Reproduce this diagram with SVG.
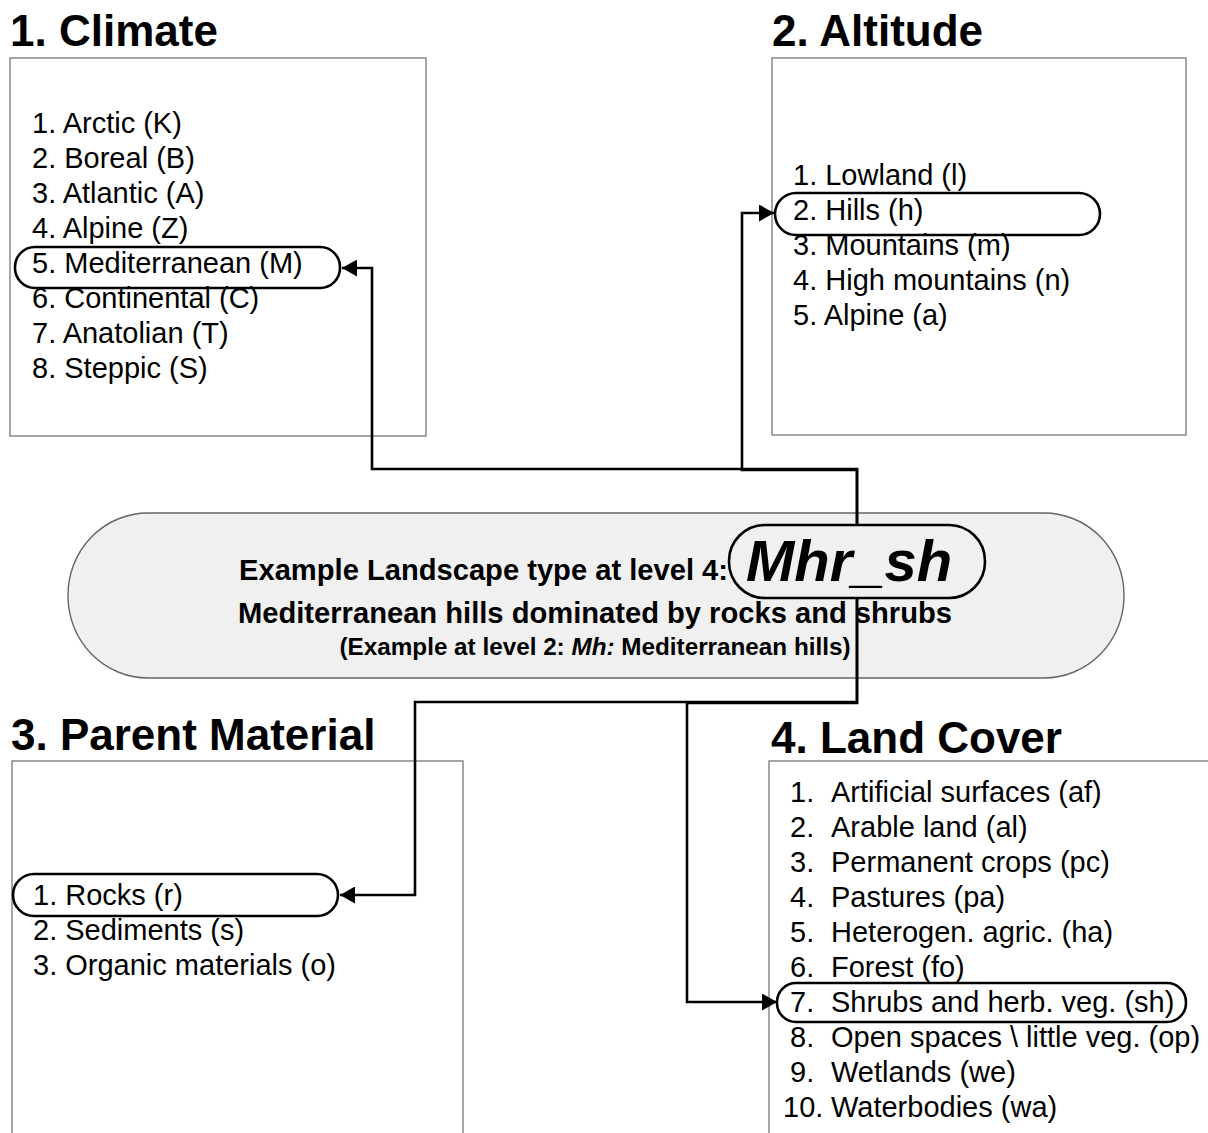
<svg xmlns="http://www.w3.org/2000/svg" width="1208" height="1133" viewBox="0 0 1208 1133">
<style>
  .title { font-family: "Liberation Sans", Arial, sans-serif; font-weight: bold; font-size: 44px; fill: #000; }
  .item { font-family: "Liberation Sans", Arial, sans-serif; font-size: 29px; fill: #000; }
  .box { fill: #fff; stroke: #808080; stroke-width: 1.4; }
  .sel { fill: none; stroke: #000; stroke-width: 2.6; }
  .conn { fill: none; stroke: #000; stroke-width: 2.6; }
  .ctr { font-family: "Liberation Sans", Arial, sans-serif; font-weight: bold; fill: #000; }
</style>
<defs>
  <marker id="arrow" markerUnits="userSpaceOnUse" markerWidth="16" markerHeight="17" refX="15" refY="8.5" orient="auto">
    <path d="M0,0 L15,8.5 L0,17 z" fill="#000"/>
  </marker>
</defs>
<rect width="1208" height="1133" fill="#fff"/>

<g id="climate">
  <text class="title" x="10" y="46">1. Climate</text>
  <rect class="box" x="10" y="58" width="416" height="378"/>
  <text class="item" x="32" y="133">1. Arctic (K)</text>
  <text class="item" x="32" y="168">2. Boreal (B)</text>
  <text class="item" x="32" y="203">3. Atlantic (A)</text>
  <text class="item" x="32" y="238">4. Alpine (Z)</text>
  <text class="item" x="32" y="273">5. Mediterranean (M)</text>
  <text class="item" x="32" y="308">6. Continental (C)</text>
  <text class="item" x="32" y="343">7. Anatolian (T)</text>
  <text class="item" x="32" y="378">8. Steppic (S)</text>
  <rect class="sel" x="15" y="247" width="325" height="41" rx="20" ry="20"/>
</g>

<g id="altitude">
  <text class="title" x="772" y="46">2. Altitude</text>
  <rect class="box" x="772" y="58" width="414" height="377"/>
  <text class="item" x="793" y="185">1. Lowland (l)</text>
  <text class="item" x="793" y="220">2. Hills (h)</text>
  <text class="item" x="793" y="255">3. Mountains (m)</text>
  <text class="item" x="793" y="290">4. High mountains (n)</text>
  <text class="item" x="793" y="325">5. Alpine (a)</text>
  <rect class="sel" x="775" y="193" width="325" height="42" rx="21" ry="21"/>
</g>

<g id="parent-material">
  <text class="title" x="11" y="750">3. Parent Material</text>
  <rect class="box" x="12" y="761" width="451" height="400"/>
  <text class="item" x="33" y="905">1. Rocks (r)</text>
  <text class="item" x="33" y="940">2. Sediments (s)</text>
  <text class="item" x="33" y="975">3. Organic materials (o)</text>
  <rect class="sel" x="13" y="874" width="325" height="42" rx="21" ry="21"/>
</g>

<g id="land-cover">
  <text class="title" x="771" y="753">4. Land Cover</text>
  <rect class="box" x="769" y="761" width="460" height="400"/>
  <text class="item" x="790" y="802">1.</text><text class="item" x="831" y="802">Artificial surfaces (af)</text>
  <text class="item" x="790" y="837">2.</text><text class="item" x="831" y="837">Arable land (al)</text>
  <text class="item" x="790" y="872">3.</text><text class="item" x="831" y="872">Permanent crops (pc)</text>
  <text class="item" x="790" y="907">4.</text><text class="item" x="831" y="907">Pastures (pa)</text>
  <text class="item" x="790" y="942">5.</text><text class="item" x="831" y="942">Heterogen. agric. (ha)</text>
  <text class="item" x="790" y="977">6.</text><text class="item" x="831" y="977">Forest (fo)</text>
  <text class="item" x="790" y="1012">7.</text><text class="item" x="831" y="1012">Shrubs and herb. veg. (sh)</text>
  <text class="item" x="790" y="1047">8.</text><text class="item" x="831" y="1047">Open spaces \ little veg. (op)</text>
  <text class="item" x="790" y="1082">9.</text><text class="item" x="831" y="1082">Wetlands (we)</text>
  <text class="item" x="783" y="1117">10.</text><text class="item" x="831" y="1117">Waterbodies (wa)</text>
  <rect class="sel" x="777" y="983" width="409" height="39" rx="19" ry="19"/>
</g>

<g id="landscape-type">
  <rect x="68" y="513" width="1056" height="165" rx="80" ry="82" fill="#f0f0f0" stroke="#666" stroke-width="1.4"/>
  <text class="ctr" x="239" y="580" font-size="29" textLength="489" lengthAdjust="spacingAndGlyphs">Example Landscape type at level 4:</text>
  <rect class="sel" x="729" y="525" width="256" height="73" rx="36" ry="36"/>
  <text class="ctr" x="746" y="581" font-size="58" font-style="italic">Mhr_sh</text>
  <text class="ctr" x="595" y="623" font-size="29" text-anchor="middle" textLength="714" lengthAdjust="spacingAndGlyphs">Mediterranean hills dominated by rocks and shrubs</text>
  <text class="ctr" x="595" y="655" font-size="24" text-anchor="middle" textLength="511" lengthAdjust="spacingAndGlyphs">(Example at level 2: <tspan font-style="italic">Mh:</tspan> Mediterranean hills)</text>
</g>

<g id="connectors">
  <path class="conn" d="M857,525 V469 H372 V268 H342" marker-end="url(#arrow)"/>
  <path class="conn" d="M857,525 V470 H742 V213 H774" marker-end="url(#arrow)"/>
  <path class="conn" d="M857,598 V702 H415 V895 H340" marker-end="url(#arrow)"/>
  <path class="conn" d="M857,598 V703 H687 V1002 H777" marker-end="url(#arrow)"/>
</g>
</svg>
